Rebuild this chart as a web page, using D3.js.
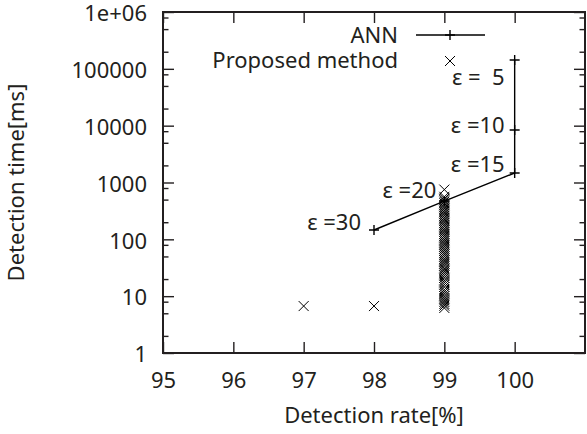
<!DOCTYPE html>
<html>
<head>
<meta charset="utf-8">
<script src="https://cdn.jsdelivr.net/npm/d3@7"></script>
<style>
  body { margin: 0; background: #fff; }
  svg text { font-family: "Noto Sans", sans-serif; font-size: 22px; fill: #231f20; white-space: pre; }
</style>
</head>
<body>
<svg width="587" height="434"></svg>
<script>
// ANN, one point per epsilon
const annRate = [100, 100, 100, 99, 98];
const annTime = [143000, 8400, 1470, 470, 146];
const annLabels = ["ε =  5", "ε =10", "ε =15", "ε =20", "ε =30"];

// Proposed method
const propRate = [97, 98,
  99, 99, 99, 99, 99, 99, 99, 99, 99, 99, 99, 99, 99, 99, 99, 99, 99, 99, 99, 99,
  99, 99, 99, 99, 99, 99, 99, 99, 99, 99, 99, 99, 99, 99, 99, 99, 99, 99, 99, 99,
  99, 99, 99, 99, 99, 99, 99, 99, 99, 99, 99, 99, 99, 99, 99, 99, 99, 99, 99, 99];
const propTime = [6.7, 6.7,
  750, 560, 520, 490, 460, 430, 400, 370, 345, 320, 300, 280, 260, 240, 225, 210, 195, 180, 168, 155,
  145, 135, 125, 116, 108, 100, 93, 86, 80, 74, 68, 63, 58, 54, 50, 46, 43, 40, 37, 34,
  31, 29, 27, 25, 23, 21, 19, 17.5, 16, 14.5, 13, 12, 11, 10, 9.2, 8.5, 7.9, 7.3, 6.8, 6.2];

const xTicks = [95, 96, 97, 98, 99, 100];
const yTicks = [1, 10, 100, 1000, 10000, 100000, 1000000];
const yTickLabels = ["1", "10", "100", "1000", "10000", "100000", "1e+06"];

const plot = { left: 163, right: 585, top: 12, bottom: 353 };
const svg = d3.select("svg");

const x = d3.scaleLinear().domain([95, 101]).range([plot.left, plot.right]);
const y = d3.scaleLog().domain([1, 1e6]).range([plot.bottom, plot.top]);

const minorY = [];
yTicks.slice(0, -1).forEach(function (d) {
  [2, 5, 8].forEach(function (m) { minorY.push(d * m); });
});

function styleAxis(g) {
  g.select(".domain").remove();
  g.selectAll("line").attr("stroke", "#231f20").attr("stroke-width", 1.4);
  g.selectAll("text").attr("font-family", null).attr("font-size", null).attr("fill", null);
}

// Axes
svg.append("g")
  .attr("transform", "translate(0," + plot.bottom + ")")
  .call(d3.axisBottom(x).tickValues(xTicks).tickSize(-11).tickPadding(19).tickFormat(d3.format("d")))
  .call(styleAxis);

svg.append("g")
  .attr("transform", "translate(0," + plot.top + ")")
  .call(d3.axisTop(x).tickValues(xTicks).tickSize(-11).tickFormat(""))
  .call(styleAxis);

svg.append("g")
  .attr("transform", "translate(" + plot.left + ",0)")
  .call(d3.axisLeft(y).tickValues(yTicks).tickSize(-11).tickPadding(16)
    .tickFormat(function (d, i) { return yTickLabels[i]; }))
  .call(styleAxis)
  .call(function (g) { g.selectAll("text").attr("dy", "0.4em"); });

svg.append("g")
  .attr("transform", "translate(" + plot.left + ",0)")
  .call(d3.axisLeft(y).tickValues(minorY).tickSize(-5.5).tickFormat(""))
  .call(styleAxis);

svg.append("g")
  .attr("transform", "translate(" + plot.right + ",0)")
  .call(d3.axisRight(y).tickValues(yTicks).tickSize(-11).tickFormat(""))
  .call(styleAxis);

svg.append("g")
  .attr("transform", "translate(" + plot.right + ",0)")
  .call(d3.axisRight(y).tickValues(minorY).tickSize(-5.5).tickFormat(""))
  .call(styleAxis);

// Frame
svg.append("rect")
  .attr("x", plot.left).attr("y", plot.top)
  .attr("width", plot.right - plot.left).attr("height", plot.bottom - plot.top)
  .attr("fill", "none").attr("stroke", "#231f20").attr("stroke-width", 2);

// Axis titles
svg.append("text")
  .attr("x", 374).attr("y", 423)
  .attr("text-anchor", "middle")
  .text("Detection rate[%]");

svg.append("text")
  .attr("transform", "translate(24," + (plot.top + plot.bottom) / 2 + ") rotate(-90)")
  .attr("text-anchor", "middle")
  .text("Detection time[ms]");

// Markers
function plusPath(cx, cy, r) {
  return "M" + (cx - r) + "," + cy + "H" + (cx + r) + "M" + cx + "," + (cy - r) + "V" + (cy + r);
}
function crossPath(cx, cy, r) {
  return "M" + (cx - r) + "," + (cy - r) + "L" + (cx + r) + "," + (cy + r) +
    "M" + (cx - r) + "," + (cy + r) + "L" + (cx + r) + "," + (cy - r);
}

// ANN line
const annIdx = d3.range(annRate.length);
svg.append("path")
  .datum(annIdx)
  .attr("fill", "none")
  .attr("stroke", "#000")
  .attr("stroke-width", 1.4)
  .attr("d", d3.line()
    .x(function (i) { return x(annRate[i]); })
    .y(function (i) { return y(annTime[i]); }));

svg.append("g")
  .selectAll("path")
  .data(annIdx)
  .enter()
  .append("path")
  .attr("stroke", "#000")
  .attr("stroke-width", 1.4)
  .attr("d", function (i) { return plusPath(x(annRate[i]), y(annTime[i]), 5); });

// Proposed method
svg.append("g")
  .selectAll("path")
  .data(d3.range(propRate.length))
  .enter()
  .append("path")
  .attr("fill", "none")
  .attr("stroke", "#000")
  .attr("stroke-width", 1)
  .attr("d", function (i) { return crossPath(x(propRate[i]), y(propTime[i]), 5); });

// epsilon labels (pixel shifts from each ANN point)
const labelShift = [[-10, 25], [-10, 3], [-10, -1], [-8, -3], [-13, 0]];
svg.append("g")
  .selectAll("text")
  .data(annIdx)
  .enter()
  .append("text")
  .attr("text-anchor", "end")
  .attr("x", function (i) { return x(annRate[i]) + labelShift[i][0]; })
  .attr("y", function (i) { return y(annTime[i]) + labelShift[i][1]; })
  .text(function (i) { return annLabels[i]; });

// Legend
const legend = svg.append("g");
legend.append("text").attr("x", 398).attr("y", 43).attr("text-anchor", "end").text("ANN");
legend.append("text").attr("x", 398).attr("y", 68).attr("text-anchor", "end").text("Proposed method");
legend.append("path").attr("stroke", "#000").attr("stroke-width", 1.4).attr("d", "M416,35H485");
legend.append("path").attr("stroke", "#000").attr("stroke-width", 1.4).attr("d", plusPath(450, 35, 5));
legend.append("path").attr("fill", "none").attr("stroke", "#000").attr("stroke-width", 1).attr("d", crossPath(450, 61, 5));
</script>
</body>
</html>
